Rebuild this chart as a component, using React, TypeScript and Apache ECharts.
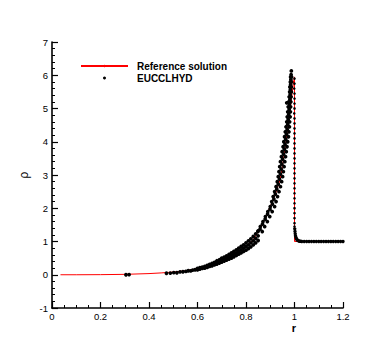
import React, { useEffect, useRef } from "react";
import * as echarts from "echarts";

const FONT = "'Liberation Sans', Arial, Helvetica, sans-serif";

// Reference solution (red line)
const refR = [0.035, 0.1, 0.2, 0.3, 0.4, 0.45, 0.5, 0.55, 0.6, 0.65, 0.7, 0.75, 0.8, 0.83, 0.86, 0.88, 0.9, 0.92, 0.94, 0.95, 0.96, 0.97, 0.98, 0.99, 0.997, 1.0, 1.0, 1.2];
const refRho = [0.0, 0.0, 0.003, 0.012, 0.035, 0.055, 0.08, 0.12, 0.18, 0.28, 0.42, 0.62, 0.86, 1.05, 1.42, 1.72, 2.05, 2.4, 2.85, 3.25, 3.75, 4.3, 4.85, 5.45, 5.85, 5.95, 1.0, 1.0];

// EUCCLHYD scatter: low / shallow part of the band
const bandLow: number[][] = [
  [0.305, 0.0], [0.318, 0.004], [0.472, 0.045], [0.488, 0.05], [0.502, 0.065], [0.515, 0.06], [0.528, 0.085], [0.54, 0.09],
  [0.552, 0.1], [0.562, 0.12], [0.572, 0.115], [0.58, 0.14], [0.59, 0.15],
  [0.6, 0.15], [0.6, 0.19], [0.61, 0.17], [0.61, 0.21], [0.62, 0.19], [0.62, 0.23], [0.63, 0.2], [0.63, 0.25],
  [0.64, 0.22], [0.64, 0.28], [0.65, 0.25], [0.65, 0.31], [0.66, 0.27], [0.66, 0.34], [0.67, 0.3], [0.67, 0.37],
  [0.68, 0.32], [0.68, 0.37], [0.68, 0.42], [0.69, 0.35], [0.69, 0.4], [0.69, 0.45], [0.7, 0.38], [0.7, 0.44], [0.7, 0.5],
  [0.71, 0.41], [0.71, 0.47], [0.71, 0.53], [0.72, 0.44], [0.72, 0.5], [0.72, 0.57], [0.73, 0.47], [0.73, 0.54], [0.73, 0.61],
  [0.74, 0.5], [0.74, 0.58], [0.74, 0.66], [0.75, 0.54], [0.75, 0.62], [0.75, 0.7], [0.76, 0.58], [0.76, 0.66], [0.76, 0.75],
  [0.77, 0.62], [0.77, 0.7], [0.77, 0.8], [0.78, 0.66], [0.78, 0.75], [0.78, 0.85], [0.79, 0.7], [0.79, 0.8], [0.79, 0.9],
  [0.8, 0.74], [0.8, 0.85], [0.8, 0.96], [0.81, 0.79], [0.81, 0.9], [0.81, 1.02], [0.82, 0.84], [0.82, 0.96], [0.82, 1.08],
  [0.83, 0.9], [0.83, 1.02], [0.83, 1.15], [0.84, 0.96], [0.84, 1.09], [0.84, 1.23], [0.85, 1.03], [0.85, 1.17], [0.85, 1.32],
];

// EUCCLHYD scatter: steep part of the band (left, middle, right at each level)
const bandSteep: number[][] = [
  [0.849, 1.3], [0.858, 1.375], [0.867, 1.3],
  [0.859, 1.45], [0.868, 1.525], [0.877, 1.45],
  [0.87, 1.6], [0.879, 1.675], [0.888, 1.6],
  [0.88, 1.75], [0.889, 1.825], [0.898, 1.75],
  [0.89, 1.9], [0.899, 1.975], [0.908, 1.9],
  [0.9, 2.05], [0.909, 2.125], [0.918, 2.05],
  [0.906, 2.2], [0.915, 2.275], [0.924, 2.2],
  [0.912, 2.35], [0.921, 2.425], [0.93, 2.35],
  [0.918, 2.5], [0.927, 2.575], [0.936, 2.5],
  [0.924, 2.65], [0.933, 2.725], [0.942, 2.65],
  [0.929, 2.8], [0.938, 2.875], [0.947, 2.8],
  [0.933, 2.95], [0.942, 3.025], [0.951, 2.95],
  [0.936, 3.1], [0.945, 3.175], [0.954, 3.1],
  [0.939, 3.25], [0.948, 3.325], [0.957, 3.25],
  [0.942, 3.4], [0.951, 3.475], [0.96, 3.4],
  [0.946, 3.55], [0.955, 3.625], [0.963, 3.55],
  [0.949, 3.7], [0.958, 3.775], [0.966, 3.7],
  [0.953, 3.85], [0.961, 3.925], [0.969, 3.85],
  [0.956, 4.0], [0.964, 4.075], [0.972, 4.0],
  [0.959, 4.15], [0.967, 4.225], [0.975, 4.15],
  [0.962, 4.3], [0.97, 4.375], [0.977, 4.3],
  [0.965, 4.45], [0.972, 4.525], [0.979, 4.45],
  [0.968, 4.6], [0.974, 4.675], [0.98, 4.6],
  [0.97, 4.75], [0.976, 4.825], [0.982, 4.75],
  [0.972, 4.9], [0.978, 4.975], [0.983, 4.9],
  [0.974, 5.05], [0.979, 5.125], [0.984, 5.05],
  [0.976, 5.2], [0.981, 5.275], [0.985, 5.2],
  [0.978, 5.35], [0.982, 5.425], [0.986, 5.35],
  [0.98, 5.5], [0.983, 5.575], [0.987, 5.5],
  [0.981, 5.65], [0.984, 5.725], [0.987, 5.65],
  [0.983, 5.8], [0.985, 5.875], [0.988, 5.8],
  [0.984, 5.95], [0.986, 6.02], [0.988, 5.95],
  [0.987, 6.13], [0.968, 5.17],
];

// EUCCLHYD scatter: smeared shock column at r = 1
const shockColumn: number[][] = [
  [1.0, 5.9], [1.0, 5.75], [0.999, 5.6], [1.0, 5.45], [1.0, 5.3], [1.0, 5.15], [1.0, 5.0], [0.999, 4.85], [1.0, 4.7],
  [1.0, 4.55], [1.0, 4.4], [1.0, 4.25], [1.0, 4.1], [1.0, 3.95], [1.0, 3.8], [1.0, 3.65], [1.0, 3.5], [1.0, 3.35],
  [1.0, 3.2], [1.0, 3.05], [1.0, 2.9], [1.0, 2.75], [1.0, 2.6], [1.0, 2.45], [1.0, 2.3], [1.0, 2.15], [1.0, 2.0],
  [1.0, 1.85], [1.0, 1.7], [1.0, 1.55], [1.0, 1.45],
];

// EUCCLHYD scatter: shock tail and undisturbed state
const preShock: number[][] = [
  [1.001, 1.38], [1.002, 1.3], [1.003, 1.23], [1.004, 1.17], [1.006, 1.12], [1.008, 1.08], [1.01, 1.055], [1.013, 1.035],
  [1.016, 1.02], [1.02, 1.01], [1.025, 1.005], [1.03, 1.0], [1.04, 1.0], [1.05, 1.0], [1.06, 1.0], [1.07, 1.0], [1.08, 1.0],
  [1.09, 1.0], [1.1, 1.0], [1.11, 1.0], [1.12, 1.0], [1.13, 1.0], [1.14, 1.0], [1.15, 1.0], [1.16, 1.0], [1.17, 1.0],
  [1.18, 1.0], [1.19, 1.0], [1.2, 1.0],
];

const xTicks = { min: 0, max: 1.2, interval: 0.2 };
const yTicks = { min: -1, max: 7, interval: 1 };

export default function App() {
  const ref = useRef<HTMLDivElement>(null);
  useEffect(() => {
    if (!ref.current) return;
    const chart = echarts.init(ref.current, null, { renderer: "svg" });
    const refData = refR.map((r, i) => [r, refRho[i]]);
    const euData = [
      ...bandLow.map((p) => ({ value: p, symbolSize: 3.8 })),
      ...bandSteep.map((p) => ({ value: p, symbolSize: 3.8 })),
      ...shockColumn.map((p) => ({ value: p, symbolSize: 2.6 })),
      ...preShock.map((p) => ({ value: p, symbolSize: 3.4 })),
    ];
    const axisCommon = {
      axisLine: { show: true, onZero: false, lineStyle: { color: "#000", width: 1.6 } },
      axisTick: { show: true, inside: true, length: 6, lineStyle: { color: "#000", width: 1.2 } },
      minorTick: { show: true, length: 3, lineStyle: { color: "#000", width: 1 } },
      splitLine: { show: false },
      minorSplitLine: { show: false },
      axisLabel: { color: "#000", fontFamily: FONT, fontSize: 9.5 },
    };
    chart.setOption({
      animation: false,
      backgroundColor: "#fff",
      grid: { left: 52, right: 47, top: 42, bottom: 39, containLabel: false },
      legend: {
        orient: "vertical",
        left: 80,
        top: 61,
        padding: 0,
        itemWidth: 47,
        itemHeight: 3,
        itemGap: 2,
        textStyle: { fontFamily: FONT, fontSize: 10, fontWeight: "bold", color: "#000", padding: [0, 0, 0, 4] },
        data: [
          { name: "Reference solution" },
          { name: "EUCCLHYD", icon: "circle" },
        ],
      },
      xAxis: {
        type: "value",
        min: xTicks.min,
        max: xTicks.max,
        interval: xTicks.interval,
        ...axisCommon,
        minorTick: { ...axisCommon.minorTick, splitNumber: 4 },
        axisLabel: { ...axisCommon.axisLabel, margin: 3, lineHeight: 10 },
        name: "r",
        nameLocation: "middle",
        nameGap: 14,
        nameMoveOverlap: false,
        nameTextStyle: { fontFamily: FONT, fontSize: 11, lineHeight: 11, fontWeight: "bold", color: "#000", padding: [0, 0, 0, 193] },
      },
      yAxis: {
        type: "value",
        min: yTicks.min,
        max: yTicks.max,
        interval: yTicks.interval,
        ...axisCommon,
        minorTick: { ...axisCommon.minorTick, splitNumber: 5 },
        axisLabel: { ...axisCommon.axisLabel, margin: 4 },
        name: "ρ",
        nameLocation: "middle",
        nameGap: 22,
        nameMoveOverlap: false,
        nameRotate: 90,
        nameTextStyle: { fontFamily: FONT, fontSize: 12, color: "#000" },
      },
      series: [
        {
          name: "Reference solution",
          type: "line",
          data: refData,
          symbol: "none",
          showSymbol: false,
          smooth: false,
          lineStyle: { color: "#ff0000", width: 1 },
          itemStyle: { color: "#ff0000" },
          z: 2,
        },
        {
          name: "EUCCLHYD",
          type: "scatter",
          data: euData,
          symbol: "circle",
          itemStyle: { color: "#000", opacity: 1 },
          z: 3,
        },
      ],
    });
    return () => chart.dispose();
  }, []);
  return <div ref={ref} style={{ position: "fixed", left: 0, top: 0, width: 390, height: 347 }} />;
}
